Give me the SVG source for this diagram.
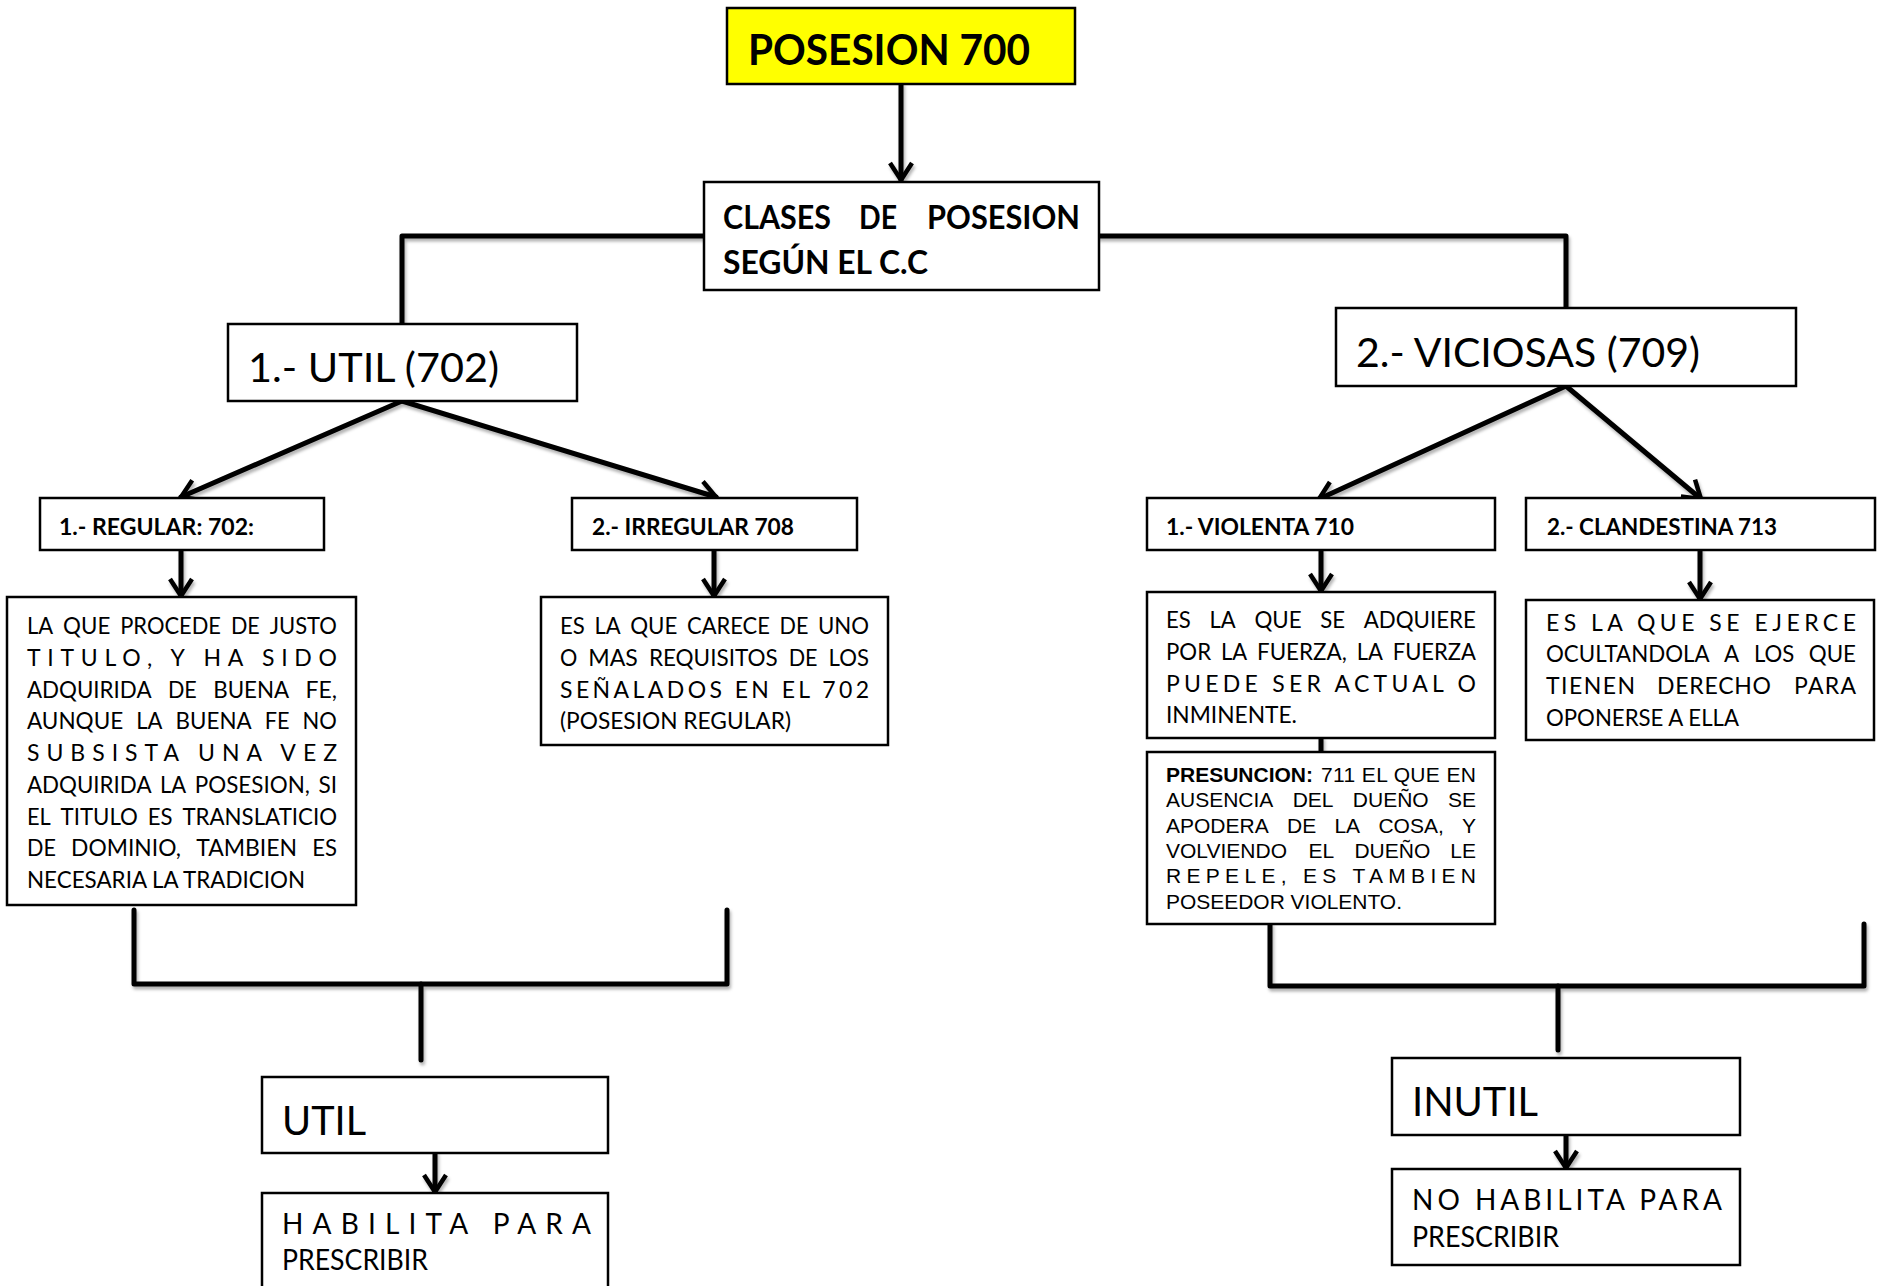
<svg xmlns="http://www.w3.org/2000/svg" width="1881" height="1286" viewBox="0 0 1881 1286">
<style>
.box{fill:#fff;stroke:#000;stroke-width:2.5}
.conn{stroke:#000;stroke-width:5;fill:none;stroke-linecap:round;stroke-linejoin:round}
.t{font-family:Lato,"Liberation Sans",sans-serif;fill:#000}
.b{font-weight:bold}
.body{font-size:23px}
.ar{font-family:"Liberation Sans",Arial,sans-serif;font-size:21px;fill:#000}
.h1{font-size:41px}
.sub{font-size:23px;font-weight:bold}
.pr{font-size:28px}
</style>
<defs>
<marker id="arr" viewBox="-3 -14 24 28" refX="17" refY="0" markerUnits="userSpaceOnUse" markerWidth="24" markerHeight="28" orient="auto">
<path d="M0,-11 L17,0 L0,11" fill="none" stroke="#000" stroke-width="4.5" stroke-linejoin="miter"/>
</marker>
<filter id="sh" x="-10%" y="-10%" width="120%" height="130%">
<feDropShadow dx="1.5" dy="3" stdDeviation="1.8" flood-color="#000" flood-opacity="0.3"/>
</filter>
</defs>
<rect width="1881" height="1286" fill="#fff"/>

<g id="connectors" filter="url(#sh)">
<path class="conn" d="M901,84 V180" marker-end="url(#arr)"/>
<path class="conn" d="M704,236 H402 V324"/>
<path class="conn" d="M1099,236 H1566 V308"/>
<path class="conn" d="M402,401 L181,497" marker-end="url(#arr)"/>
<path class="conn" d="M402,401 L716,497" marker-end="url(#arr)"/>
<path class="conn" d="M1566,386 L1319,499" marker-end="url(#arr)"/>
<path class="conn" d="M1566,386 L1701,499" marker-end="url(#arr)"/>
<path class="conn" d="M181,550 V596" marker-end="url(#arr)"/>
<path class="conn" d="M714,550 V596" marker-end="url(#arr)"/>
<path class="conn" d="M1321,550 V591" marker-end="url(#arr)"/>
<path class="conn" d="M1700,550 V599" marker-end="url(#arr)"/>
<path class="conn" d="M1321,738 V752"/>
<path class="conn" d="M134,910 V984 H727 V910"/>
<path class="conn" d="M421,984 V1060"/>
<path class="conn" d="M1270,924 V986 H1864 V924"/>
<path class="conn" d="M1558,986 V1050"/>
<path class="conn" d="M435,1153 V1192" marker-end="url(#arr)"/>
<path class="conn" d="M1566,1135 V1168" marker-end="url(#arr)"/>
</g>

<g id="posesion">
<rect x="727" y="8" width="348" height="76" fill="#ffff00" stroke="#000" stroke-width="2.5"/>
<text class="t b" x="748" y="65" font-size="42" textLength="282" lengthAdjust="spacingAndGlyphs">POSESION 700</text>
</g>

<g id="clases" class="t b" font-size="32">
<rect class="box" x="704" y="182" width="395" height="108"/>
<text x="723" y="229" textLength="108" lengthAdjust="spacingAndGlyphs">CLASES</text>
<text x="859" y="229" textLength="38" lengthAdjust="spacingAndGlyphs">DE</text>
<text x="927" y="229" textLength="153" lengthAdjust="spacingAndGlyphs">POSESION</text>
<text x="723" y="274" textLength="205" lengthAdjust="spacingAndGlyphs">SEGÚN EL C.C</text>
</g>

<g id="util702">
<rect class="box" x="228" y="324" width="349" height="77"/>
<text class="t h1" x="248" y="382" textLength="251" lengthAdjust="spacingAndGlyphs">1.- UTIL (702)</text>
</g>

<g id="viciosas">
<rect class="box" x="1336" y="308" width="460" height="78"/>
<text class="t h1" x="1356" y="367" textLength="344" lengthAdjust="spacingAndGlyphs">2.- VICIOSAS (709)</text>
</g>

<g id="regular">
<rect class="box" x="40" y="498" width="284" height="52"/>
<text class="t sub" x="59" y="535" textLength="195" lengthAdjust="spacingAndGlyphs">1.- REGULAR: 702:</text>
</g>

<g id="irregular">
<rect class="box" x="572" y="498" width="285" height="52"/>
<text class="t sub" x="592" y="535" textLength="202" lengthAdjust="spacingAndGlyphs">2.- IRREGULAR 708</text>
</g>

<g id="violenta">
<rect class="box" x="1147" y="498" width="348" height="52"/>
<text class="t sub" x="1166" y="535" textLength="188" lengthAdjust="spacingAndGlyphs">1.- VIOLENTA 710</text>
</g>

<g id="clandestina">
<rect class="box" x="1526" y="498" width="349" height="52"/>
<text class="t sub" x="1547" y="535" textLength="230" lengthAdjust="spacingAndGlyphs">2.- CLANDESTINA 713</text>
</g>

<g id="regular-desc">
<rect class="box" x="7" y="597" width="349" height="308"/>
<g class="t body" lengthAdjust="spacingAndGlyphs">
<text x="27" y="634" textLength="26.2" lengthAdjust="spacingAndGlyphs">LA</text>
<text x="63.1" y="634" textLength="47.2" lengthAdjust="spacingAndGlyphs">QUE</text>
<text x="120.2" y="634" textLength="100.8" lengthAdjust="spacingAndGlyphs">PROCEDE</text>
<text x="230.9" y="634" textLength="28.9" lengthAdjust="spacingAndGlyphs">DE</text>
<text x="269.7" y="634" textLength="67.3" lengthAdjust="spacingAndGlyphs">JUSTO</text>
<text x="27" y="666" textLength="310" lengthAdjust="spacing">TITULO, Y HA SIDO</text>
<text x="27" y="698" textLength="124.5" lengthAdjust="spacingAndGlyphs">ADQUIRIDA</text>
<text x="167.9" y="698" textLength="28.9" lengthAdjust="spacingAndGlyphs">DE</text>
<text x="213.2" y="698" textLength="76" lengthAdjust="spacingAndGlyphs">BUENA</text>
<text x="305.6" y="698" textLength="31.4" lengthAdjust="spacingAndGlyphs">FE,</text>
<text x="27" y="729" textLength="96.2" lengthAdjust="spacingAndGlyphs">AUNQUE</text>
<text x="136.3" y="729" textLength="26.2" lengthAdjust="spacingAndGlyphs">LA</text>
<text x="175.6" y="729" textLength="76" lengthAdjust="spacingAndGlyphs">BUENA</text>
<text x="264.7" y="729" textLength="24.8" lengthAdjust="spacingAndGlyphs">FE</text>
<text x="302.6" y="729" textLength="34.3" lengthAdjust="spacingAndGlyphs">NO</text>
<text x="27" y="761" textLength="310" lengthAdjust="spacing">SUBSISTA UNA VEZ</text>
<text x="27" y="793" textLength="124.5" lengthAdjust="spacingAndGlyphs">ADQUIRIDA</text>
<text x="160" y="793" textLength="26.2" lengthAdjust="spacingAndGlyphs">LA</text>
<text x="194.8" y="793" textLength="115.1" lengthAdjust="spacingAndGlyphs">POSESION,</text>
<text x="318.4" y="793" textLength="18.6" lengthAdjust="spacingAndGlyphs">SI</text>
<text x="27" y="825" textLength="23.8" lengthAdjust="spacingAndGlyphs">EL</text>
<text x="60.6" y="825" textLength="77.3" lengthAdjust="spacingAndGlyphs">TITULO</text>
<text x="147.8" y="825" textLength="24.8" lengthAdjust="spacingAndGlyphs">ES</text>
<text x="182.4" y="825" textLength="154.6" lengthAdjust="spacingAndGlyphs">TRANSLATICIO</text>
<text x="27" y="856" textLength="28.9" lengthAdjust="spacingAndGlyphs">DE</text>
<text x="71.1" y="856" textLength="109.9" lengthAdjust="spacingAndGlyphs">DOMINIO,</text>
<text x="196.2" y="856" textLength="100.9" lengthAdjust="spacingAndGlyphs">TAMBIEN</text>
<text x="312.2" y="856" textLength="24.8" lengthAdjust="spacingAndGlyphs">ES</text>
<text x="27" y="888" textLength="278" lengthAdjust="spacingAndGlyphs">NECESARIA LA TRADICION</text>
</g>
</g>

<g id="irregular-desc">
<rect class="box" x="541" y="597" width="347" height="148"/>
<g class="t body">
<text x="560" y="634" textLength="24.8" lengthAdjust="spacingAndGlyphs">ES</text>
<text x="594.4" y="634" textLength="26.2" lengthAdjust="spacingAndGlyphs">LA</text>
<text x="630.2" y="634" textLength="47.2" lengthAdjust="spacingAndGlyphs">QUE</text>
<text x="687" y="634" textLength="82.9" lengthAdjust="spacingAndGlyphs">CARECE</text>
<text x="779.5" y="634" textLength="28.9" lengthAdjust="spacingAndGlyphs">DE</text>
<text x="818" y="634" textLength="51.1" lengthAdjust="spacingAndGlyphs">UNO</text>
<text x="560" y="666" textLength="17.3" lengthAdjust="spacingAndGlyphs">O</text>
<text x="588.3" y="666" textLength="49.6" lengthAdjust="spacingAndGlyphs">MAS</text>
<text x="648.9" y="666" textLength="128.8" lengthAdjust="spacingAndGlyphs">REQUISITOS</text>
<text x="788.7" y="666" textLength="28.9" lengthAdjust="spacingAndGlyphs">DE</text>
<text x="828.6" y="666" textLength="40.4" lengthAdjust="spacingAndGlyphs">LOS</text>
<text x="560" y="698" textLength="309" lengthAdjust="spacing">SEÑALADOS EN EL 702</text>
<text x="560" y="729" textLength="231" lengthAdjust="spacingAndGlyphs">(POSESION REGULAR)</text>
</g>
</g>

<g id="violenta-desc">
<rect class="box" x="1147" y="592" width="348" height="146"/>
<g class="t body">
<text x="1166" y="628" textLength="24.8" lengthAdjust="spacingAndGlyphs">ES</text>
<text x="1209.5" y="628" textLength="26.2" lengthAdjust="spacingAndGlyphs">LA</text>
<text x="1254.4" y="628" textLength="47.2" lengthAdjust="spacingAndGlyphs">QUE</text>
<text x="1320.3" y="628" textLength="24.8" lengthAdjust="spacingAndGlyphs">SE</text>
<text x="1363.8" y="628" textLength="112.1" lengthAdjust="spacingAndGlyphs">ADQUIERE</text>
<text x="1166" y="660" textLength="45.1" lengthAdjust="spacingAndGlyphs">POR</text>
<text x="1221" y="660" textLength="26.2" lengthAdjust="spacingAndGlyphs">LA</text>
<text x="1257" y="660" textLength="89.8" lengthAdjust="spacingAndGlyphs">FUERZA,</text>
<text x="1356.7" y="660" textLength="26.2" lengthAdjust="spacingAndGlyphs">LA</text>
<text x="1392.7" y="660" textLength="83.3" lengthAdjust="spacingAndGlyphs">FUERZA</text>
<text x="1166" y="692" textLength="310" lengthAdjust="spacing">PUEDE SER ACTUAL O</text>
<text x="1166" y="723" textLength="131" lengthAdjust="spacingAndGlyphs">INMINENTE.</text>
</g>
</g>

<g id="presuncion">
<rect class="box" x="1147" y="752" width="348" height="172"/>
<text class="ar" x="1166" y="782" font-weight="bold" textLength="147" lengthAdjust="spacingAndGlyphs">PRESUNCION:</text>
<text class="ar" x="1321" y="782" textLength="155" lengthAdjust="spacing">711 EL QUE EN</text>
<text class="ar" x="1166" y="807">AUSENCIA</text>
<text class="ar" x="1292.7" y="807">DEL</text>
<text class="ar" x="1352.8" y="807">DUEÑO</text>
<text class="ar" x="1448" y="807">SE</text>
<text class="ar" x="1166" y="833">APODERA</text>
<text class="ar" x="1287" y="833">DE</text>
<text class="ar" x="1334.4" y="833">LA</text>
<text class="ar" x="1378.4" y="833">COSA,</text>
<text class="ar" x="1462" y="833">Y</text>
<text class="ar" x="1166" y="858">VOLVIENDO</text>
<text class="ar" x="1308.6" y="858">EL</text>
<text class="ar" x="1354.4" y="858">DUEÑO</text>
<text class="ar" x="1450.3" y="858">LE</text>
<text class="ar" x="1166" y="883" textLength="310" lengthAdjust="spacing">REPELE, ES TAMBIEN</text>
<text class="ar" x="1166" y="909" textLength="236" lengthAdjust="spacingAndGlyphs">POSEEDOR VIOLENTO.</text>
</g>

<g id="clandestina-desc">
<rect class="box" x="1526" y="600" width="348" height="140"/>
<g class="t body">
<text x="1546" y="631" textLength="310" lengthAdjust="spacing">ES LA QUE SE EJERCE</text>
<text x="1546" y="662" textLength="163.6" lengthAdjust="spacingAndGlyphs">OCULTANDOLA</text>
<text x="1724.1" y="662" textLength="15.2" lengthAdjust="spacingAndGlyphs">A</text>
<text x="1753.9" y="662" textLength="40.4" lengthAdjust="spacingAndGlyphs">LOS</text>
<text x="1808.8" y="662" textLength="47.2" lengthAdjust="spacingAndGlyphs">QUE</text>
<text x="1546" y="694" textLength="89" lengthAdjust="spacing">TIENEN</text>
<text x="1657" y="694" textLength="114" lengthAdjust="spacing">DERECHO</text>
<text x="1794" y="694" textLength="62" lengthAdjust="spacing">PARA</text>
<text x="1546" y="726" textLength="193" lengthAdjust="spacingAndGlyphs">OPONERSE A ELLA</text>
</g>
</g>

<g id="util">
<rect class="box" x="262" y="1077" width="346" height="76"/>
<text class="t h1" x="282" y="1135" textLength="84" lengthAdjust="spacingAndGlyphs">UTIL</text>
</g>

<g id="habilita">
<rect class="box" x="262" y="1193" width="346" height="110"/>
<text class="t pr" x="282" y="1234" textLength="309" lengthAdjust="spacing">HABILITA PARA</text>
<text class="t pr" x="282" y="1270" textLength="146" lengthAdjust="spacingAndGlyphs">PRESCRIBIR</text>
</g>

<g id="inutil">
<rect class="box" x="1392" y="1058" width="348" height="77"/>
<text class="t h1" x="1412" y="1116" textLength="126" lengthAdjust="spacingAndGlyphs">INUTIL</text>
</g>

<g id="no-habilita">
<rect class="box" x="1392" y="1169" width="348" height="96"/>
<text class="t pr" x="1412" y="1210" textLength="310" lengthAdjust="spacing">NO HABILITA PARA</text>
<text class="t pr" x="1412" y="1247" textLength="147" lengthAdjust="spacingAndGlyphs">PRESCRIBIR</text>
</g>
</svg>
